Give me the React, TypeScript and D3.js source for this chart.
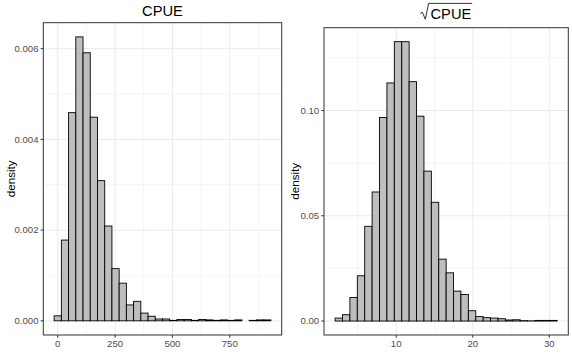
import React from 'react';
import * as d3 from 'd3';

// histogram densities, 30 bins each
const cpueDensity = [0.00011, 0.00178, 0.00459, 0.00626, 0.00591, 0.00449, 0.00309, 0.00209, 0.00115, 0.00083,
  0.00035, 0.00043, 0.00017, 0.0001, 0.00004, 0.00004, 0.00001, 0.00003, 0.00003, 0.00001,
  0.00003, 0.00002, 0.00001, 0.00002, 0.00001, 0.00002, 0, 0.00001, 0.00002, 0.00002];
const cpueBinStart = -15.75;
const cpueBinWidth = 31.5;
const cpueXTicks = [0, 250, 500, 750];
const cpueYTicks = [0, 0.002, 0.004, 0.006];

const sqrtDensity = [0.0014, 0.003, 0.0112, 0.0215, 0.045, 0.0613, 0.0967, 0.1131, 0.1327, 0.1327,
  0.1137, 0.0973, 0.0712, 0.0564, 0.0294, 0.0229, 0.0142, 0.0126, 0.0049, 0.0021,
  0.0016, 0.0014, 0.0011, 0.0005, 0.0006, 0.0002, 0.0001, 0.0003, 0.0003, 0.0003];
const sqrtBinStart = 2.02;
const sqrtBinWidth = 0.967;
const sqrtXTicks = [10, 20, 30];
const sqrtYTicks = [0, 0.05, 0.1];

const FONT = '"Liberation Sans", Arial, sans-serif';
const GRID = '#EBEBEB';
const DARK = '#333333';

type PanelProps = {
  values: number[];
  binStart: number;
  binWidth: number;
  xTicks: number[];
  yTicks: number[];
  yFmt: (v: number) => string;
  left: number; right: number; top: number; bottom: number;
  labelX: number;
};

// midpoints between majors, kept inside the domain (like ggplot minor breaks)
function minors(ticks: number[], domain: number[]) {
  const step = ticks[1] - ticks[0];
  const out: number[] = [];
  for (let i = -1; i < ticks.length; i++) {
    const v = ticks[0] + step * (i + 0.5);
    if (v > domain[0] && v < domain[1]) out.push(v);
  }
  return out;
}

const Panel = ({ values, binStart, binWidth, xTicks, yTicks, yFmt, left, right, top, bottom, labelX }: PanelProps) => {
  const binEnd = binStart + binWidth * values.length;
  const xpad = (binEnd - binStart) * 0.05;
  const xDomain = [binStart - xpad, binEnd + xpad];
  const ymax = d3.max(values) as number;
  const yDomain = [-ymax * 0.05, ymax * 1.05];

  const x = d3.scaleLinear().domain(xDomain).range([left, right]);
  const y = d3.scaleLinear().domain(yDomain).range([bottom, top]);

  const bins = values.map((v, i) => ({ x0: binStart + i * binWidth, x1: binStart + (i + 1) * binWidth, v }));

  return (
    <g>
      {/* grid */}
      {minors(yTicks, yDomain).map(t => (
        <line key={'ym' + t} x1={left} x2={right} y1={y(t)} y2={y(t)} stroke={GRID} strokeWidth={0.5} />
      ))}
      {minors(xTicks, xDomain).map(t => (
        <line key={'xm' + t} y1={top} y2={bottom} x1={x(t)} x2={x(t)} stroke={GRID} strokeWidth={0.5} />
      ))}
      {yTicks.map(t => (
        <line key={'y' + t} x1={left} x2={right} y1={y(t)} y2={y(t)} stroke={GRID} strokeWidth={1} />
      ))}
      {xTicks.map(t => (
        <line key={'x' + t} y1={top} y2={bottom} x1={x(t)} x2={x(t)} stroke={GRID} strokeWidth={1} />
      ))}

      {/* bars */}
      {bins.map((b, i) => (
        <rect key={i} x={x(b.x0)} width={x(b.x1) - x(b.x0)} y={y(b.v)} height={y(0) - y(b.v)}
          fill="#BEBEBE" stroke="#000" strokeWidth={0.9} />
      ))}

      <rect x={left} y={top} width={right - left} height={bottom - top} fill="none" stroke={DARK} strokeWidth={1} />

      {/* y axis */}
      {yTicks.map(t => (
        <g key={'yt' + t}>
          <line x1={left - 2.7} x2={left} y1={y(t)} y2={y(t)} stroke={DARK} strokeWidth={1} />
          <text x={left - 4.8} y={y(t)} dy="0.35em" textAnchor="end" fontSize={9.6} fill="#4D4D4D">{yFmt(t)}</text>
        </g>
      ))}
      {/* x axis */}
      {xTicks.map(t => (
        <g key={'xt' + t}>
          <line x1={x(t)} x2={x(t)} y1={bottom} y2={bottom + 2.7} stroke={DARK} strokeWidth={1} />
          <text x={x(t)} y={347.4} textAnchor="middle" fontSize={9.6} fill="#4D4D4D">{t}</text>
        </g>
      ))}
      <text transform={`translate(${labelX},${(top + bottom) / 2}) rotate(-90)`} textAnchor="middle"
        fontSize={11.6} fill="#000">density</text>
    </g>
  );
};

export default function App() {
  return (
    <svg width={572} height={354} style={{ display: 'block', position: 'absolute', left: 0, top: 0, background: '#fff' }}
      fontFamily={FONT}>
      <rect width={572} height={354} fill="#fff" />
      <Panel values={cpueDensity} binStart={cpueBinStart} binWidth={cpueBinWidth}
        xTicks={cpueXTicks} yTicks={cpueYTicks} yFmt={d3.format('.3f')}
        left={43.3} right={281.7} top={22.7} bottom={335} labelX={14.5} />
      <text x={162.5} y={15.5} textAnchor="middle" fontSize={14.7} fill="#000">CPUE</text>

      <Panel values={sqrtDensity} binStart={sqrtBinStart} binWidth={sqrtBinWidth}
        xTicks={sqrtXTicks} yTicks={sqrtYTicks} yFmt={d3.format('.2f')}
        left={324} right={568.3} top={27.7} bottom={335} labelX={299} />
      <g>
        <text x={430.5} y={19.2} textAnchor="start" fontSize={14.7} fill="#000">CPUE</text>
        <path d="M420.3,13.4 L422.4,12.3 L425.3,19.3 L428.6,3.4 L472.2,3.4" fill="none" stroke="#000" strokeWidth={0.8} />
      </g>
    </svg>
  );
}
